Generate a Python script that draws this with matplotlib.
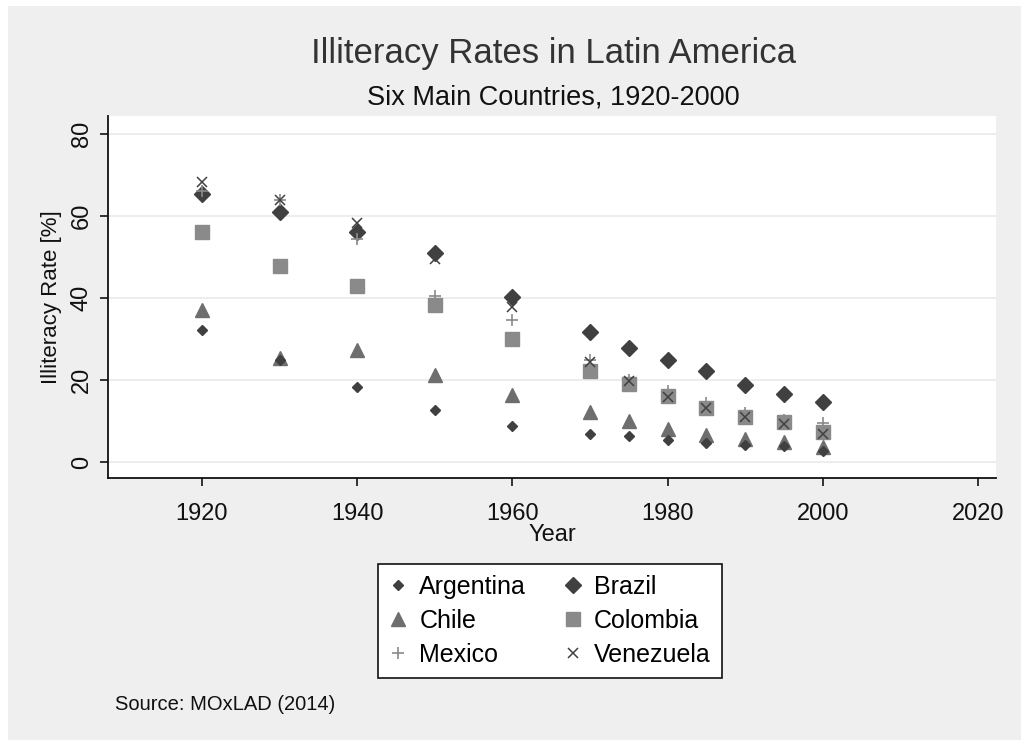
import matplotlib.pyplot as plt
from matplotlib.patches import Rectangle

plt.rcParams['font.family'] = ['Liberation Sans', 'DejaVu Sans']

years = [1920, 1930, 1940, 1950, 1960, 1970, 1975, 1980, 1985, 1990, 1995, 2000]
argentina = [32.2, 25.0, 18.4, 12.7, 8.8, 6.8, 6.3, 5.4, 4.7, 4.1, 4.0, 2.7]
brazil = [65.4, 60.9, 56.0, 51.1, 40.2, 31.8, 27.9, 25.0, 22.3, 18.8, 16.7, 14.7]
chile = [37.2, 25.3, 27.3, 21.2, 16.3, 12.3, 10.1, 8.0, 6.7, 5.5, 5.0, 3.7]
colombia = [56.1, 47.9, 43.0, 38.3, 29.9, 22.2, 19.0, 16.1, 13.1, 11.1, 9.8, 7.4]
mexico = [66.0, 64.0, 54.4, 40.5, 34.6, 24.9, 20.0, 17.2, 14.3, 11.9, 10.2, 9.4]
venezuela = [68.4, 64.0, 58.2, 49.4, 37.9, 24.5, 19.8, 15.9, 13.1, 11.1, 9.3, 6.8]

fig = plt.figure(figsize=(10.21, 7.40), dpi=100, facecolor='white')
# grey graph region (white strip on top and left)
fig.patches.append(Rectangle((8/1021, 0), 1 - 8/1021, 1 - 6/740,
                             transform=fig.transFigure, facecolor='#efefef',
                             edgecolor='none', zorder=-10))

ax = fig.add_axes([108/1021, 1 - 478/740, 888/1021, 362/740])
ax.set_facecolor('white')

ax.plot(years, brazil, 'D', ms=8.5, color='#404040', mec='#404040', label='Brazil', zorder=3)
ax.plot(years, colombia, 's', ms=9.8, color='#8a8a8a', mec='#8a8a8a', label='Colombia', zorder=3)
ax.plot(years, chile, '^', ms=9.5, color='#6e6e6e', mec='#6e6e6e', label='Chile', zorder=3)
ax.plot(years, argentina, 'D', ms=5.4, color='#404040', mec='#404040', label='Argentina', zorder=3)
ax.plot(years, mexico, '+', ms=9, mew=1.2, color='#8a8a8a', label='Mexico', zorder=3)
ax.plot(years, venezuela, 'x', ms=7, mew=1.1, color='#404040', label='Venezuela', zorder=3)

ax.set_xlim(1907.9, 2022.3)
ax.set_ylim(-3.9, 84.4)
ax.set_xticks([1920, 1940, 1960, 1980, 2000, 2020])
ax.set_yticks([0, 20, 40, 60, 80])
ax.grid(axis='y', color='#eaeaea', lw=1.2)
ax.set_axisbelow(True)

for s in ['top', 'right']:
    ax.spines[s].set_visible(False)
for s in ['left', 'bottom']:
    ax.spines[s].set_color('#111111')
    ax.spines[s].set_linewidth(1.3)
ax.tick_params(axis='both', direction='out', length=6, width=1.2, color='#111111',
               labelsize=17, labelcolor='#111111')
ax.tick_params(axis='x', pad=12)
ax.tick_params(axis='y', pad=5)
for lab in ax.get_yticklabels():
    lab.set_rotation(90)
    lab.set_va('center')

ax.set_xlabel('Year', fontsize=17, color='#111111', labelpad=-1)
ax.set_ylabel('Illiteracy Rate [%]', fontsize=16, color='#111111', labelpad=6)

fig.text(553/1021, 1 - 54/740, 'Illiteracy Rates in Latin America', ha='center', va='center',
         fontsize=25, color='#333333')
fig.text(553/1021, 1 - 97/740, 'Six Main Countries, 1920-2000', ha='center', va='center',
         fontsize=19.5, color='#111111')
fig.text(115/1021, 1 - 705/740, 'Source: MOxLAD (2014)', ha='left', va='center',
         fontsize=14.5, color='#111111')

h, l = ax.get_legend_handles_labels()
order = ['Argentina', 'Chile', 'Mexico', 'Brazil', 'Colombia', 'Venezuela']
hh = [h[l.index(n)] for n in order]
leg = fig.legend(hh, order, ncol=2, loc='center', bbox_to_anchor=(550/1021, 1 - 621/740),
                 fontsize=18, frameon=True, fancybox=False, edgecolor='#111111',
                 facecolor='white', framealpha=1, handlelength=0.7, handletextpad=0.5,
                 columnspacing=1.5, labelspacing=0.4, borderpad=0.45)
leg.get_frame().set_linewidth(1.2)

fig.savefig('out.png', dpi=100, facecolor=fig.get_facecolor())
